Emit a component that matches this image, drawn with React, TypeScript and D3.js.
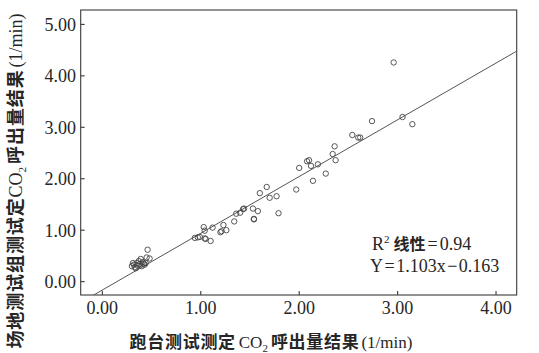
import * as d3 from "d3";
import React from "react";

// treadmill result (x) vs field test result (y), CO2 output 1/min
const treadmill = [
  0.30, 0.31, 0.32, 0.33, 0.34, 0.35, 0.36, 0.37, 0.38, 0.39, 0.40, 0.41, 0.42, 0.43, 0.44, 0.45, 0.46, 0.48,
  0.94, 0.97, 0.99, 1.03, 1.04, 1.04, 1.05, 1.10, 1.12, 1.20, 1.21, 1.23, 1.26,
  1.34, 1.36, 1.40, 1.43, 1.44, 1.53, 1.54, 1.54, 1.58, 1.60, 1.67, 1.70, 1.77, 1.79,
  1.97, 2.00, 2.08, 2.10, 2.12, 2.14, 2.19, 2.27, 2.34, 2.36, 2.37,
  2.54, 2.60, 2.62, 2.74, 2.96, 3.05, 3.15,
];
const field = [
  0.30, 0.36, 0.33, 0.28, 0.26, 0.36, 0.31, 0.40, 0.34, 0.44, 0.30, 0.38, 0.35, 0.33, 0.36, 0.47, 0.62, 0.45,
  0.85, 0.86, 0.87, 1.06, 0.84, 0.99, 0.83, 0.79, 1.05, 0.96, 0.98, 1.10, 1.00,
  1.17, 1.32, 1.34, 1.41, 1.42, 1.42, 1.22, 1.21, 1.37, 1.72, 1.84, 1.63, 1.66, 1.33,
  1.79, 2.21, 2.34, 2.36, 2.25, 1.96, 2.28, 2.10, 2.48, 2.63, 2.36,
  2.85, 2.80, 2.80, 3.12, 4.26, 3.20, 3.06,
];

const xTicks = [0, 1, 2, 3, 4];
const yTicks = [0, 1, 2, 3, 4, 5];
const slope = 1.103;
const intercept = -0.163;

const W = 539;
const H = 353;
const plot = { left: 80.7, right: 516.7, top: 10, bottom: 295 };
const serif = "'Liberation Serif', 'DejaVu Serif', serif";
const cjk = "'Noto Sans CJK SC', sans-serif";
const ink = "#262626";

export default function App() {
  const x = d3.scaleLinear().domain([-0.22, 4.21]).range([plot.left, plot.right]);
  const y = d3.scaleLinear().domain([-0.26, 5.28]).range([plot.bottom, plot.top]);
  const [x0, x1] = x.domain();
  const fit = d3.line<number>()
    .x((v) => x(v))
    .y((v) => y(slope * v + intercept));

  return (
    <svg width={W} height={H} style={{ position: "absolute", left: 0, top: 0, background: "#fff" }}>
      <defs>
        <clipPath id="plotClip">
          <rect x={plot.left} y={plot.top} width={plot.right - plot.left} height={plot.bottom - plot.top} />
        </clipPath>
      </defs>

      <rect x={plot.left} y={plot.top} width={plot.right - plot.left} height={plot.bottom - plot.top}
        fill="none" stroke="#3a3a3a" strokeWidth={1.1} />

      {/* y axis ticks + labels */}
      {yTicks.map((t) => (
        <g key={"y" + t}>
          <line x1={plot.left} x2={plot.left + 4} y1={y(t)} y2={y(t)} stroke="#3a3a3a" strokeWidth={1.1} />
          <text x={76} y={y(t)} dy="0.36em" textAnchor="end" fontFamily={serif} fontSize={18} fill={ink}>
            {d3.format(".2f")(t)}
          </text>
        </g>
      ))}

      {/* x axis ticks + labels */}
      {xTicks.map((t) => (
        <g key={"x" + t}>
          <line x1={x(t)} x2={x(t)} y1={plot.bottom} y2={plot.bottom - 4} stroke="#3a3a3a" strokeWidth={1.1} />
          <text x={x(t)} y={314} textAnchor="middle" fontFamily={serif} fontSize={18} fill={ink}>
            {d3.format(".2f")(t)}
          </text>
        </g>
      ))}

      <g clipPath="url(#plotClip)">
        <path d={fit([x0, x1]) || ""} fill="none" stroke="#555" strokeWidth={1} />
        {treadmill.map((v, i) => (
          <circle key={i} cx={x(v)} cy={y(field[i])} r={2.7} fill="none" stroke="#444" strokeWidth={0.9} />
        ))}
      </g>

      {/* fit annotation */}
      <text x={372} y={250} fontFamily={serif} fontSize={18} fill={ink}>
        R<tspan fontSize={11} dy={-7}>2</tspan>
        <tspan dy={7} dx={4} fontFamily={cjk} fontWeight={700} fontSize={16}>线性</tspan>
        <tspan dx={2}>=</tspan>
        <tspan dx={2}>0.94</tspan>
      </text>
      <text x={370} y={272} fontFamily={serif} fontSize={18} fill={ink}>
        Y<tspan dx={1.5}>=</tspan>
        <tspan dx={1.5}>1.103x</tspan>
        <tspan dx={1.5}>−</tspan>
        <tspan dx={1.5}>0.163</tspan>
      </text>

      {/* x axis title */}
      <text x={271} y={348} textAnchor="middle" fontSize={17} fill={ink}>
        <tspan fontFamily={cjk} fontWeight={700} letterSpacing={0.7}>跑台测试测定</tspan>
        <tspan fontFamily={serif} dx={3}>CO</tspan>
        <tspan fontFamily={serif} fontSize={11} dy={4}>2</tspan>
        <tspan fontFamily={cjk} fontWeight={700} dy={-4} dx={3} letterSpacing={0.7}>呼出量结果</tspan>
        <tspan fontFamily={serif} dx={2}>(1/min)</tspan>
      </text>

      {/* y axis title */}
      <text transform="translate(22,181) rotate(-90)" textAnchor="middle" fontSize={18} fill={ink}>
        <tspan fontFamily={cjk} fontWeight={700} letterSpacing={0.9}>场地测试组测试定</tspan>
        <tspan fontFamily={serif}>CO</tspan>
        <tspan fontFamily={serif} fontSize={11} dy={4}>2</tspan>
        <tspan fontFamily={cjk} fontWeight={700} dy={-4} dx={3} letterSpacing={0.9}>呼出量结果</tspan>
        <tspan fontFamily={serif} dx={2}>(1/min)</tspan>
      </text>
    </svg>
  );
}
